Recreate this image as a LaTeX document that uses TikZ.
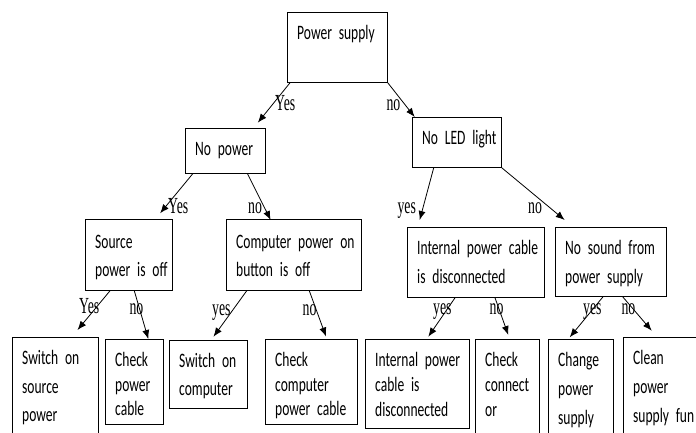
\documentclass[tikz,border=0pt]{standalone}
\usepackage{fontspec}
\newfontfamily\boxfont[FakeStretch=0.66]{Carlito}
\newfontfamily\answerfont[FakeStretch=0.6]{Liberation Serif}
\usetikzlibrary{arrows.meta}
\usetikzlibrary{calc}

\tikzset{
	box/.style={rectangle, draw=black, line width=0.8pt, anchor=north west, inner sep=0pt},
	boxtext/.style={anchor=base west, xshift=10pt, yshift=-27.5pt, align=left, text width=140pt, inner sep=0pt, font=\boxfont\fontsize{20.5}{#1}\selectfont},
	boxtext/.default=28.5,
	answer/.style={anchor=base west, inner sep=0pt, font=\answerfont\fontsize{23}{23}\selectfont},
	flow/.style={line width=0.8pt, -{Latex[length=9pt,width=7pt]}}
}

\begin{document}
\begin{tikzpicture}[x=1pt, y=-1pt]
		\useasboundingbox (0,0) rectangle (696,432);
		\clip (0,0) rectangle (696,432);
		% first and second level
		\node[box, minimum width=100pt, minimum height=70pt, label={[boxtext]north west:Power supply}] (PowerSupply) at (287,12) {};
		\node[box, minimum width=80pt, minimum height=45pt, label={[boxtext]north west:No power}] (NoPower) at (185,128) {};
		\node[box, minimum width=89pt, minimum height=50pt, label={[boxtext]north west:No LED light}] (NoLED) at (412,117) {};
		% third level
		\node[box, minimum width=87pt, minimum height=71pt, label={[boxtext, yshift=-1.5pt]north west:{Source\\power is off}}] (SourceOff) at (85,219) {};
		\node[box, minimum width=135pt, minimum height=71pt, label={[boxtext, yshift=-1.5pt]north west:{Computer power on\\button is off}}] (ButtonOff) at (226,219) {};
		\node[box, minimum width=137pt, minimum height=70pt, label={[boxtext]north west:{Internal power cable\\is disconnected}}] (CableOff) at (407,227) {};
		\node[box, minimum width=111pt, minimum height=69pt, label={[boxtext]north west:{No sound from\\power supply}}] (NoSound) at (555,227) {};
		% leaves
		\node[box, minimum width=86pt, minimum height=110pt, label={[boxtext]north west:{Switch on\\source\\power}}] (SwitchSource) at (12,337) {};
		\node[box, minimum width=58pt, minimum height=85pt, label={[boxtext=24.5]north west:{Check\\power\\cable}}] (CheckCable) at (105,339) {};
		\node[box, minimum width=78pt, minimum height=68pt, label={[boxtext=28]north west:{Switch on\\computer}}] (SwitchComputer) at (169,340) {};
		\node[box, minimum width=92pt, minimum height=85pt, label={[boxtext=24.5]north west:{Check\\computer\\power cable}}] (CheckComputerCable) at (265,339) {};
		\node[box, minimum width=104pt, minimum height=89pt, label={[boxtext=25]north west:{Internal power\\cable is\\disconnected}}] (CableLeaf) at (365,339) {};
		\node[box, minimum width=64pt, minimum height=110pt, label={[boxtext=25]north west:{Check\\connect\\or}}] (CheckConnector) at (475,339) {};
		\node[box, minimum width=65pt, minimum height=110pt, label={[boxtext=29]north west:{Change\\power\\supply}}] (ChangeSupply) at (548,339) {};
		\node[box, minimum width=72.5pt, minimum height=110pt, label={[boxtext=29]north west:{Clean\\power\\supply fun}}] (CleanSupply) at (623,337) {};
		% answers
		\node[answer] (PowerYes) at (275,110) {Yes};
		\node[answer] (PowerNo) at (386.3,110) {no};
		\node[answer] (NoPowerYes) at (168,213.3) {Yes};
		\node[answer] (NoPowerNo) at (248,213.3) {no};
		\node[answer] (LEDYes) at (397.3,213) {yes};
		\node[answer] (LEDNo) at (528,213.3) {no};
		\node[answer] (SourceYes) at (79,313.3) {Yes};
		\node[answer] (SourceNo) at (129.3,314) {no};
		\node[answer] (ButtonYes) at (212,315) {yes};
		\node[answer] (ButtonNo) at (302.5,315) {no};
		\node[answer] (CableYes) at (433,314) {yes};
		\node[answer] (CableNo) at (489.5,314) {no};
		\node[answer] (SoundYes) at (583,314) {yes};
		\node[answer] (SoundNo) at (621.3,314) {no};
		% arrows
		\draw[flow] ($(PowerSupply.south west)+(3,0)$) -- ($(NoPower.north east)+(-8,-5.3)$);
		\draw[flow] (PowerSupply.south east) -- ($(NoLED.north west)+(2.7,0)$);
		\draw[flow] ($(NoPower.south west)+(7.7,0)$) -- ($(SourceOff.north east)+(-12.7,-5.7)$);
		\draw[flow] ($(NoPower.south east)+(-18.3,0)$) -- ($(ButtonOff.north west)+(44.7,1)$);
		\draw[flow] ($(NoLED.south west)+(21.7,0)$) -- ($(CableOff.north west)+(12.7,-7)$);
		\draw[flow] (NoLED.south east) -- ($(NoSound.north west)+(9.7,-7)$);
		\draw[flow] ($(SourceOff.south west)+(25,0)$) -- ($(SwitchSource.north east)+(-21.3,-7)$);
		\draw[flow] ($(SourceOff.south west)+(49.3,0)$) -- ($(CheckCable.north west)+(43.3,0)$);
		\draw[flow] ($(ButtonOff.south west)+(20.7,0)$) -- ($(SwitchComputer.north east)+(-34.3,-3.3)$);
		\draw[flow] ($(ButtonOff.south west)+(83.3,0)$) -- ($(CheckComputerCable.north west)+(61,-2.5)$);
		\draw[flow] ($(CableOff.south west)+(48,0)$) -- ($(CableLeaf.north west)+(63.3,-2.3)$);
		\draw[flow] ($(CableOff.south west)+(88,0)$) -- ($(CheckConnector.north west)+(33.3,-4)$);
		\draw[flow] ($(NoSound.south west)+(48,0)$) -- ($(ChangeSupply.north west)+(21.7,-1.7)$);
		\draw[flow] ($(NoSound.south west)+(67.7,0)$) -- ($(CleanSupply.north west)+(28.7,-6.3)$);
\end{tikzpicture}
\end{document}
